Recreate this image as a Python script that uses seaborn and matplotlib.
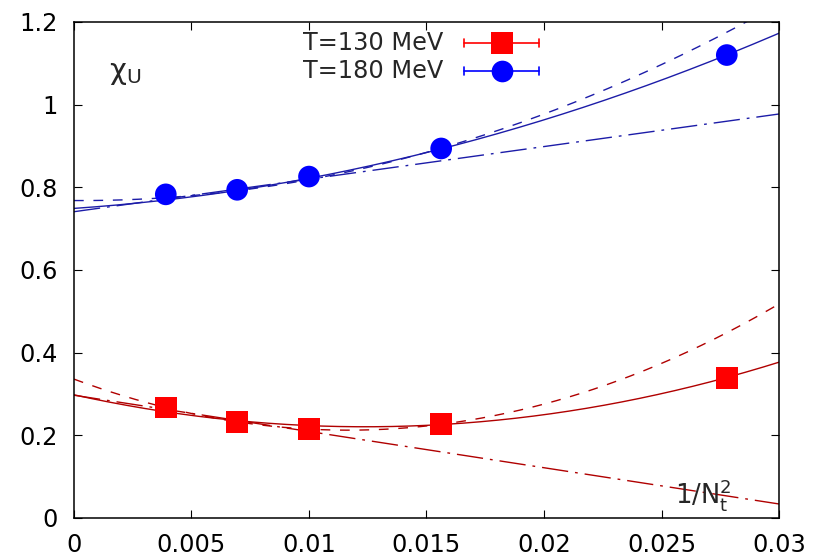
import numpy as np
import pandas as pd
import matplotlib
matplotlib.use("Agg")
import matplotlib.pyplot as plt
from matplotlib.lines import Line2D
import seaborn as sns

# 1/N_t^2 for N_t = 16, 12, 10, 8, 6
inv_nt2 = [0.00390625, 0.00694444, 0.01, 0.015625, 0.02777778]

# chi_U measurements
chi_130 = [0.267, 0.232, 0.215, 0.228, 0.339]
chi_180 = [0.783, 0.794, 0.826, 0.894, 1.120]
err_130 = [0.004, 0.004, 0.004, 0.004, 0.005]
err_180 = [0.005, 0.005, 0.005, 0.005, 0.006]

# continuum extrapolations: c0 + c1*x + c2*x^2
fit_130_full = [0.298, -12.48, 503.7]
fit_130_quad = [0.336, -21.18, 908.0]
fit_130_lin = [0.297, -8.77, 0.0]
fit_180_full = [0.749, 3.88, 341.6]
fit_180_quad = [0.768, -0.33, 539.6]
fit_180_lin = [0.741, 7.88, 0.0]

labels = ["T=130 MeV", "T=180 MeV"]

sns.set_style("ticks")
plt.rcParams["font.family"] = ["DejaVu Sans"]
plt.rcParams["mathtext.fontset"] = "dejavusans"

fig = plt.figure(figsize=(8.22, 5.58), dpi=100)
ax = fig.add_axes([0.0900, 0.0717, 0.8577, 0.8889])

xs = np.linspace(0.0, 0.03, 400)
rows = []
for temp, fits in (("130", (fit_130_full, fit_130_quad, fit_130_lin)),
                   ("180", (fit_180_full, fit_180_quad, fit_180_lin))):
    for kind, c in zip(("full", "quad", "lin"), fits):
        ys = c[0] + c[1] * xs + c[2] * xs ** 2
        rows.append(pd.DataFrame({"x": xs, "y": ys, "T": temp, "fit": kind}))
curves = pd.concat(rows, ignore_index=True)

sns.lineplot(data=curves, x="x", y="y", hue="T", style="fit",
             palette={"130": "#b00000", "180": "#1c1ca8"},
             dashes={"full": "", "quad": (7, 7), "lin": (19, 5, 2, 5)},
             estimator=None, sort=False, linewidth=1.0, legend=False, ax=ax)

# error bars underneath the markers
ax.errorbar(inv_nt2, chi_130, yerr=err_130, fmt="none", ecolor="red",
            elinewidth=1.0, capsize=3, zorder=3)
ax.errorbar(inv_nt2, chi_180, yerr=err_180, fmt="none", ecolor="blue",
            elinewidth=1.0, capsize=3, zorder=3)

pts = pd.DataFrame({"x": inv_nt2 * 2, "y": chi_130 + chi_180,
                    "T": ["130"] * 5 + ["180"] * 5})
sns.scatterplot(data=pts[pts["T"] == "130"], x="x", y="y", marker="s",
                s=243, color="red", edgecolor="none", linewidth=0,
                legend=False, ax=ax, zorder=4)
sns.scatterplot(data=pts[pts["T"] == "180"], x="x", y="y", marker="o",
                s=243, color="blue", edgecolor="none", linewidth=0,
                legend=False, ax=ax, zorder=4)

ax.set_xlim(0, 0.03)
ax.set_ylim(0, 1.2)
ax.set_xticks(np.arange(0, 0.0301, 0.005))
ax.set_xticklabels(["0", "0.005", "0.01", "0.015", "0.02", "0.025", "0.03"])
ax.set_yticks(np.arange(0, 1.201, 0.2))
ax.set_yticklabels(["0", "0.2", "0.4", "0.6", "0.8", "1", "1.2"])
ax.tick_params(direction="in", length=5.5, width=0.8, top=True, right=True,
               labelsize=17.3, colors="black")
ax.tick_params(axis="x", pad=11)
ax.tick_params(axis="y", pad=12)
ax.set_xlabel("")
ax.set_ylabel("")
for sp in ax.spines.values():
    sp.set_visible(True)
    sp.set_linewidth(1.1)
    sp.set_color("black")

ax.text(0.00150, 1.062, "χ$_\\mathrm{U}$", fontsize=21, ha="left",
        va="baseline")
ax.text(0.02557, 0.036, "1/N$_\\mathrm{t}^\\mathrm{2}$", fontsize=18.5,
        ha="left", va="baseline")

# key in the top centre, gnuplot style
tr = ax.transAxes
for row_y, lab, col, mk in ((0.9577, labels[0], "red", "s"),
                            (0.9010, labels[1], "blue", "o")):
    ax.text(0.5234, row_y, lab, transform=tr, fontsize=17.3, ha="right",
            va="center")
    ax.add_line(Line2D([0.5532, 0.6596], [row_y, row_y], transform=tr,
                       color=col, lw=1.2, zorder=5))
    for xe in (0.5532, 0.6596):
        ax.add_line(Line2D([xe, xe], [row_y - 0.0075, row_y + 0.0075],
                           transform=tr, color=col, lw=1.2, zorder=5))
    ax.add_line(Line2D([0.607], [row_y], transform=tr, marker=mk,
                       markersize=15.6, color=col, markeredgewidth=0,
                       linestyle="none", zorder=6))

fig.savefig("out.png", dpi=100)
